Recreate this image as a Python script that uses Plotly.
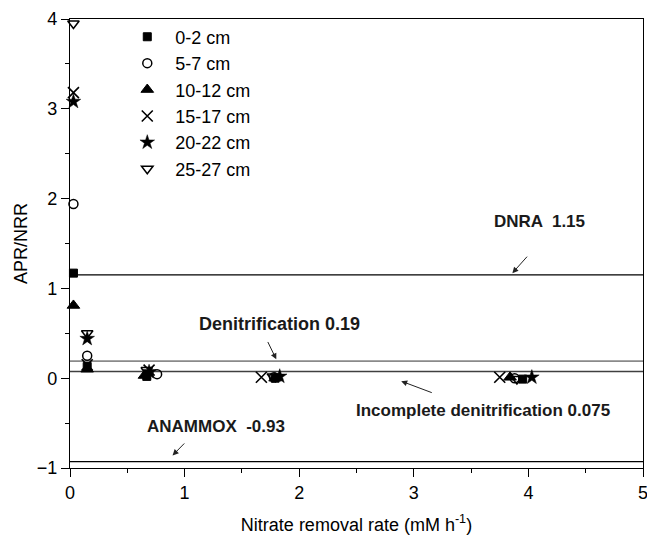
import plotly.graph_objects as go

# ---- data ----
series_names = ["0-2 cm", "5-7 cm", "10-12 cm", "15-17 cm", "20-22 cm", "25-27 cm"]
x_0_2 = [0.03, 0.15, 0.67, 1.79, 3.95]
y_0_2 = [1.17, 0.13, 0.02, 0.00, -0.01]
x_5_7 = [0.03, 0.15, 0.76, 1.78, 3.88]
y_5_7 = [1.94, 0.25, 0.045, 0.01, 0.00]
x_10_12 = [0.03, 0.15, 0.65, 1.79, 3.84]
y_10_12 = [0.81, 0.10, 0.03, 0.00, 0.01]
x_15_17 = [0.03, 0.15, 0.69, 1.67, 3.75]
y_15_17 = [3.18, 0.15, 0.09, 0.01, 0.01]
x_20_22 = [0.03, 0.15, 0.69, 1.83, 4.03]
y_20_22 = [3.08, 0.44, 0.07, 0.02, 0.01]
x_25_27 = [0.03, 0.15, 0.67, 1.77, 3.90]
y_25_27 = [3.95, 0.50, 0.09, 0.02, -0.01]

ref_names = ["DNRA  1.15", "Denitrification 0.19", "Incomplete denitrification 0.075", "ANAMMOX  -0.93"]
ref_values = [1.15, 0.19, 0.075, -0.93]

xs = [x_0_2, x_5_7, x_10_12, x_15_17, x_20_22, x_25_27]
ys = [y_0_2, y_5_7, y_10_12, y_15_17, y_20_22, y_25_27]
symbols = ["square", "circle-open", "triangle-up", "x-thin-open", "star", "triangle-down-open"]
sizes = [8, 9, 11, 11, 11, 10]
lw = [1, 1.5, 1, 1.6, 0.5, 1.5]

fig = go.Figure()

ref_colors = ["#000000", "#8a8a8a", "#404040", "#000000"]
ref_widths = [1.2, 1.8, 1.4, 1.2]
for v, c, w in zip(ref_values, ref_colors, ref_widths):
    fig.add_trace(go.Scatter(x=[0, 5], y=[v, v], mode="lines",
                             line=dict(color=c, width=w), showlegend=False,
                             hoverinfo="skip"))

for name, x, y, s, sz, w in zip(series_names, xs, ys, symbols, sizes, lw):
    fig.add_trace(go.Scatter(x=x, y=y, mode="markers", name=name,
                             marker=dict(symbol=s, size=sz, color="black",
                                         line=dict(color="black", width=w)),
                             cliponaxis=False))

# text labels and arrows
label_pos = [(4.10, 1.74), (1.83, 0.60), (3.60, -0.36), (1.275, -0.536)]
label_size = [17, 18, 17, 17]
arrow_tail = [(4.00, 1.37), (1.72, 0.42), (3.17, -0.167), (1.01, -0.71)]
arrow_head = [(3.86, 1.17), (1.80, 0.21), (2.89, -0.033), (0.895, -0.86)]

annotations = []
for t, (lx, ly), fs in zip(ref_names, label_pos, label_size):
    annotations.append(dict(x=lx, y=ly, xref="x", yref="y", text="<b>%s</b>" % t,
                            showarrow=False, font=dict(family="Arial", size=fs, color="#1a1a1a")))
for (tx, ty), (hx, hy) in zip(arrow_tail, arrow_head):
    annotations.append(dict(x=hx, y=hy, ax=tx, ay=ty, xref="x", yref="y",
                            axref="x", ayref="y", text="", showarrow=True,
                            arrowhead=2, arrowsize=1.2, arrowwidth=1, arrowcolor="#222"))

fig.update_layout(
    width=647, height=538,
    margin=dict(l=70, r=4, t=19, b=70, autoexpand=False),
    paper_bgcolor="white", plot_bgcolor="white",
    font=dict(family="Arial", size=18, color="black"),
    annotations=annotations,
    legend=dict(x=0.086, y=1.001, xanchor="left", yanchor="top",
                bgcolor="rgba(0,0,0,0)", font=dict(size=18),
                itemwidth=46, tracegroupgap=0),
    xaxis=dict(range=[0, 5], tickvals=[0, 1, 2, 3, 4, 5], showgrid=False, zeroline=False,
               showline=True, linecolor="black", linewidth=1.3, mirror=True,
               ticks="outside", ticklen=8, tickcolor="black", automargin=False,
               ticklabeloverflow="allow",
               minor=dict(tickvals=[0.5, 1.5, 2.5, 3.5, 4.5], ticks="outside", ticklen=4, tickcolor="black"),
               title=dict(text="Nitrate removal rate (mM h<sup>-1</sup>)", font=dict(size=18), standoff=16)),
    yaxis=dict(range=[-1, 4], tickvals=[-1, 0, 1, 2, 3, 4], showgrid=False, zeroline=False,
               showline=True, linecolor="black", linewidth=1.3, mirror=True,
               ticks="outside", ticklen=8, tickcolor="black", automargin=False,
               minor=dict(tickvals=[-0.5, 0.5, 1.5, 2.5, 3.5], ticks="outside", ticklen=4, tickcolor="black"),
               title=dict(text="APR/NRR", font=dict(size=18), standoff=4)),
)

# remove the default page margin so the figure sits at the window origin
fig.write_html("out.html",
               config={"displayModeBar": False},
               post_script="document.body.style.margin='0';document.body.style.overflow='hidden';")
